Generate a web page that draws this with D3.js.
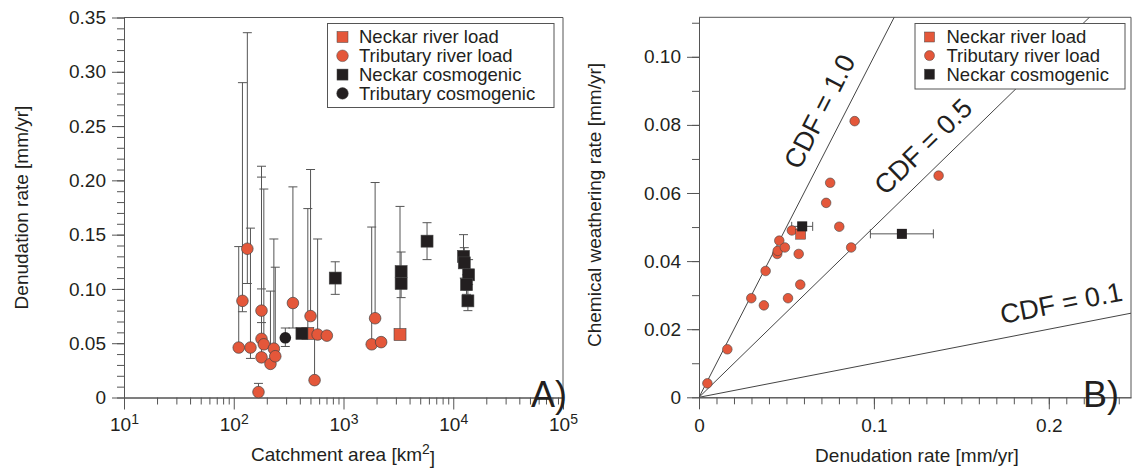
<!DOCTYPE html>
<html>
<head>
<meta charset="utf-8">
<script src="https://cdn.jsdelivr.net/npm/d3@7"></script>
<style>
  body { margin: 0; background: #fff; }
  text { font-family: "Liberation Sans", Arial, Helvetica, sans-serif; fill: #231f20; }
</style>
</head>
<body>
<script>
// ---- Panel A: denudation rate vs catchment area ----
// tributary river load (orange circles)
var tribArea = [111, 120, 133, 142, 168, 179, 179, 179, 188, 216, 232, 239,
  346, 501, 545, 581, 705, 1807, 1941, 2203]
var tribRate = [0.046, 0.089, 0.137, 0.046, 0.005, 0.080, 0.054, 0.037, 0.049, 0.031, 0.045, 0.038,
  0.087, 0.075, 0.016, 0.058, 0.057, 0.049, 0.073, 0.051]
var tribLow = [null, 0.079, 0.105, 0.036, null, 0.069, null, null, null, null, null, null,
  0.064, null, null, null, null, null, null, null]
var tribHigh = [0.139, 0.290, 0.336, 0.156, 0.013, 0.213, 0.100, 0.203, 0.192, 0.098, 0.146, 0.120,
  0.194, 0.210, 0.058, 0.146, null, 0.157, 0.198, null]

// Neckar river load (orange squares)
var neckarArea = [473, 3273]
var neckarRate = [0.059, 0.058]
var neckarLow = [null, null]
var neckarHigh = [0.174, 0.176]

// Neckar cosmogenic (black squares)
var cosmoArea = [418, 841, 3350, 3350, 5770, 12400, 12600, 13800, 13200, 13600]
var cosmoRate = [0.059, 0.110, 0.116, 0.105, 0.144, 0.130, 0.124, 0.113, 0.104, 0.089]
var cosmoLow = [null, 0.095, 0.105, 0.092, 0.127, 0.120, 0.110, 0.104, 0.095, 0.080]
var cosmoHigh = [null, 0.125, 0.134, 0.116, 0.161, 0.150, 0.138, 0.127, 0.113, 0.099]

// tributary cosmogenic (black circle)
var tribCosmoArea = [295]
var tribCosmoRate = [0.055]
var tribCosmoLow = [0.047]
var tribCosmoHigh = [0.064]

// ---- Panel B: chemical weathering vs denudation ----
var tribDen = [0.0048, 0.0162, 0.0299, 0.0371, 0.0381, 0.0509, 0.0447, 0.0450, 0.0459, 0.0491,
  0.0531, 0.0570, 0.0579, 0.0727, 0.0750, 0.0802, 0.0870, 0.0890, 0.137]
var tribChem = [0.0041, 0.0141, 0.0291, 0.0270, 0.0371, 0.0291, 0.0421, 0.0430, 0.0460, 0.0440,
  0.0490, 0.0421, 0.0331, 0.0571, 0.0630, 0.0501, 0.0440, 0.0811, 0.0651]
var neckarDen = [0.0581]
var neckarChem = [0.0479]
var cosmoDen = [0.059, 0.116]
var cosmoChem = [0.0502, 0.048]
var cosmoDenLow = [0.053, 0.098]
var cosmoDenHigh = [0.065, 0.134]

// CDF reference lines
var cdfValues = [1.0, 0.5, 0.1]
var cdfLabels = ['CDF = 1.0', 'CDF = 0.5', 'CDF = 0.1']

// tick labels
var yTicksA = [0, 0.05, 0.10, 0.15, 0.20, 0.25, 0.30, 0.35]
var yTickLabelsA = ['0', '0.05', '0.10', '0.15', '0.20', '0.25', '0.30', '0.35']
var xTicksA = [10, 100, 1000, 10000, 100000]
var xTickExpA = ['1', '2', '3', '4', '5']
var yTicksB = [0, 0.02, 0.04, 0.06, 0.08, 0.10]
var yTickLabelsB = ['0', '0.02', '0.04', '0.06', '0.08', '0.10']
var xTicksB = [0, 0.1, 0.2]
var xTickLabelsB = ['0', '0.1', '0.2']

var legendA = ['Neckar river load', 'Tributary river load', 'Neckar cosmogenic', 'Tributary cosmogenic']
var legendB = ['Neckar river load', 'Tributary river load', 'Neckar cosmogenic']

// colours
var orange = '#e4573a'
var black = '#231f20'
var gray = '#555'

var svg = d3.select('body').append('svg')
  .attr('width', 1133)
  .attr('height', 468)

// scales
var xA = d3.scaleLog().domain([10, 100000]).range([124, 563])
var yA = d3.scaleLinear().domain([0, 0.35]).range([397.5, 17.5])
var xB = d3.scaleLinear().domain([0, 0.247]).range([699, 1131])
var yB = d3.scaleLinear().domain([0, 0.1116]).range([397.3, 17.3])

// styles an axis group
function styleAxis (g) {
  g.attr('font-family', null).attr('font-size', null)
  g.select('.domain').attr('stroke', gray)
  g.selectAll('line').attr('stroke', gray)
  g.selectAll('text').attr('font-size', 19).attr('fill', black)
}

// ---------------- axes A ----------------
var minorA = []
for (let d = 10; d < 100000; d *= 10) {
  for (let k = 2; k <= 9; k++) minorA.push(k * d)
}
var minorYA = d3.range(0, 36).map(function (i) { return i / 100 })

svg.append('g').attr('transform', 'translate(0,' + yA(0) + ')')
  .call(d3.axisBottom(xA).tickValues(minorA).tickFormat('').tickSize(7).tickSizeOuter(0))
  .call(styleAxis)
var gxA = svg.append('g').attr('transform', 'translate(0,' + yA(0) + ')')
  .call(d3.axisBottom(xA).tickValues(xTicksA).tickFormat(function () { return '10' })
    .tickSize(12).tickSizeOuter(0).tickPadding(8))
  .call(styleAxis)
gxA.selectAll('.tick text').append('tspan')
  .attr('dy', '-0.5em').attr('font-size', 14)
  .text(function (d, i) { return xTickExpA[i] })

svg.append('g').attr('transform', 'translate(' + xA(10) + ',0)')
  .call(d3.axisLeft(yA).tickValues(minorYA).tickFormat('').tickSize(7).tickSizeOuter(0))
  .call(styleAxis)
svg.append('g').attr('transform', 'translate(' + xA(10) + ',0)')
  .call(d3.axisLeft(yA).tickValues(yTicksA).tickFormat(function (d, i) { return yTickLabelsA[i] })
    .tickSize(12).tickSizeOuter(0).tickPadding(6))
  .call(styleAxis)

// frame top / right
svg.append('path')
  .attr('d', 'M' + xA(10) + ',' + yA(0.35) + 'H' + xA(100000) + 'V' + yA(0))
  .attr('fill', 'none').attr('stroke', gray)

// ---------------- axes B ----------------
var minorXB = d3.range(0, 25).map(function (i) { return i / 100 })
var minorYB = d3.range(0, 12).map(function (i) { return i / 100 })

svg.append('g').attr('transform', 'translate(0,' + yB(0) + ')')
  .call(d3.axisBottom(xB).tickValues(minorXB).tickFormat('').tickSize(7).tickSizeOuter(0))
  .call(styleAxis)
svg.append('g').attr('transform', 'translate(0,' + yB(0) + ')')
  .call(d3.axisBottom(xB).tickValues(xTicksB).tickFormat(function (d, i) { return xTickLabelsB[i] })
    .tickSize(12).tickSizeOuter(0).tickPadding(9))
  .call(styleAxis)
svg.append('g').attr('transform', 'translate(' + xB(0) + ',0)')
  .call(d3.axisLeft(yB).tickValues(minorYB).tickFormat('').tickSize(7).tickSizeOuter(0))
  .call(styleAxis)
svg.append('g').attr('transform', 'translate(' + xB(0) + ',0)')
  .call(d3.axisLeft(yB).tickValues(yTicksB).tickFormat(function (d, i) { return yTickLabelsB[i] })
    .tickSize(12).tickSizeOuter(0).tickPadding(6))
  .call(styleAxis)

svg.append('path')
  .attr('d', 'M' + xB(0) + ',' + yB(0.1116) + 'H' + xB(0.247) + 'V' + yB(0))
  .attr('fill', 'none').attr('stroke', gray)

// ---------------- axis titles ----------------
var titleA = svg.append('text')
  .attr('x', 343).attr('y', 461).attr('text-anchor', 'middle').attr('font-size', 19)
titleA.append('tspan').text('Catchment area [km')
titleA.append('tspan').attr('dy', '-0.5em').attr('font-size', 14).text('2')
titleA.append('tspan').attr('dy', '0.5em').text(']')

svg.append('text')
  .attr('transform', 'translate(28,' + yA(0.175) + ') rotate(-90)')
  .attr('text-anchor', 'middle').attr('font-size', 19)
  .text('Denudation rate [mm/yr]')

svg.append('text')
  .attr('x', 917).attr('y', 462).attr('text-anchor', 'middle').attr('font-size', 19)
  .text('Denudation rate [mm/yr]')

svg.append('text')
  .attr('transform', 'translate(601,' + 205 + ') rotate(-90)')
  .attr('text-anchor', 'middle').attr('font-size', 19)
  .text('Chemical weathering rate [mm/yr]')

// panel letters
svg.append('text').attr('x', 531).attr('y', 407).attr('font-size', 36).text('A)')
svg.append('text').attr('x', 1083).attr('y', 407).attr('font-size', 36).text('B)')

// ---------------- panel A marks ----------------
var gA = svg.append('g')

// vertical error bars: line from low (or value) to high, with caps
function errorBars (area, rate, low, high) {
  area.forEach(function (a, i) {
    var top = high[i] != null ? high[i] : rate[i]
    var bot = low[i] != null ? low[i] : rate[i]
    var x = xA(a)
    gA.append('line')
      .attr('x1', x).attr('x2', x).attr('y1', yA(bot)).attr('y2', yA(top))
      .attr('stroke', gray).attr('stroke-width', 1)
    if (high[i] != null) {
      gA.append('line').attr('x1', x - 4.5).attr('x2', x + 4.5)
        .attr('y1', yA(high[i])).attr('y2', yA(high[i]))
        .attr('stroke', gray).attr('stroke-width', 1)
    }
    if (low[i] != null) {
      gA.append('line').attr('x1', x - 4.5).attr('x2', x + 4.5)
        .attr('y1', yA(low[i])).attr('y2', yA(low[i]))
        .attr('stroke', gray).attr('stroke-width', 1)
    }
  })
}
errorBars(tribArea, tribRate, tribLow, tribHigh)
errorBars(neckarArea, neckarRate, neckarLow, neckarHigh)
errorBars(cosmoArea, cosmoRate, cosmoLow, cosmoHigh)
errorBars(tribCosmoArea, tribCosmoRate, tribCosmoLow, tribCosmoHigh)

gA.selectAll('rect.neckar').data(neckarArea).enter().append('rect')
  .attr('x', function (d) { return xA(d) - 6 })
  .attr('y', function (d, i) { return yA(neckarRate[i]) - 6 })
  .attr('width', 12).attr('height', 12)
  .attr('fill', orange).attr('stroke', '#444').attr('stroke-width', 0.6)

gA.selectAll('circle.trib').data(tribArea).enter().append('circle')
  .attr('cx', function (d) { return xA(d) })
  .attr('cy', function (d, i) { return yA(tribRate[i]) })
  .attr('r', 5.8)
  .attr('fill', orange).attr('stroke', '#444').attr('stroke-width', 0.7)

gA.selectAll('rect.cosmo').data(cosmoArea).enter().append('rect')
  .attr('x', function (d) { return xA(d) - 6 })
  .attr('y', function (d, i) { return yA(cosmoRate[i]) - 6 })
  .attr('width', 12).attr('height', 12)
  .attr('fill', black).attr('stroke', '#444').attr('stroke-width', 0.6)

gA.selectAll('circle.tcosmo').data(tribCosmoArea).enter().append('circle')
  .attr('cx', function (d) { return xA(d) })
  .attr('cy', function (d, i) { return yA(tribCosmoRate[i]) })
  .attr('r', 5.8)
  .attr('fill', black)

// legend A
var legA = svg.append('g')
legA.append('rect').attr('x', 327.5).attr('y', 23.5).attr('width', 226.5).attr('height', 84)
  .attr('fill', '#fff').attr('stroke', gray)
legendA.forEach(function (t, i) {
  var cy = 37 + i * 18.8
  var col = i < 2 ? orange : black
  if (i % 2 === 0) {
    legA.append('rect').attr('x', 337).attr('y', cy - 5.5).attr('width', 11).attr('height', 11)
      .attr('fill', col).attr('stroke', '#444').attr('stroke-width', 0.5)
  } else {
    legA.append('circle').attr('cx', 342.5).attr('cy', cy).attr('r', 5.8)
      .attr('fill', col).attr('stroke', '#444').attr('stroke-width', 0.5)
  }
  legA.append('text').attr('x', 359).attr('y', cy).attr('dy', '0.35em')
    .attr('font-size', 18.5).text(t)
})

// ---------------- panel B marks ----------------
svg.append('clipPath').attr('id', 'clipB')
  .append('rect').attr('x', xB(0)).attr('y', yB(0.1116))
  .attr('width', xB(0.247) - xB(0)).attr('height', yB(0) - yB(0.1116))

var gB = svg.append('g')
var cdfLine = d3.line().x(function (d) { return xB(d[0]) }).y(function (d) { return yB(d[1]) })
cdfValues.forEach(function (c) {
  gB.append('path')
    .attr('d', cdfLine([[0, 0], [0.247, 0.247 * c]]))
    .attr('clip-path', 'url(#clipB)')
    .attr('fill', 'none').attr('stroke', '#444').attr('stroke-width', 1)
})

// CDF labels placed along each line, offset above it
var cdfLabelX = [0.0808, 0.1375, 0.2096]
cdfValues.forEach(function (c, i) {
  var px = xB(cdfLabelX[i])
  var py = yB(cdfLabelX[i] * c)
  var ang = Math.atan2(yB(0) - yB(0.1 * c), xB(0.1) - xB(0))
  var ox = px - 23 * Math.sin(ang)
  var oy = py - 23 * Math.cos(ang)
  gB.append('text')
    .attr('transform', 'translate(' + ox + ',' + oy + ') rotate(' + (-ang * 180 / Math.PI) + ')')
    .attr('text-anchor', 'middle').attr('dominant-baseline', 'central')
    .attr('font-size', 27).text(cdfLabels[i])
})

// horizontal error bars for cosmogenic
cosmoDen.forEach(function (d, i) {
  var y = yB(cosmoChem[i])
  gB.append('line').attr('x1', xB(cosmoDenLow[i])).attr('x2', xB(cosmoDenHigh[i]))
    .attr('y1', y).attr('y2', y).attr('stroke', gray)
  ;[cosmoDenLow[i], cosmoDenHigh[i]].forEach(function (v) {
    gB.append('line').attr('x1', xB(v)).attr('x2', xB(v))
      .attr('y1', y - 4.5).attr('y2', y + 4.5).attr('stroke', gray)
  })
})

gB.selectAll('circle.trib').data(tribDen).enter().append('circle')
  .attr('cx', function (d) { return xB(d) })
  .attr('cy', function (d, i) { return yB(tribChem[i]) })
  .attr('r', 4.8)
  .attr('fill', orange).attr('stroke', '#444').attr('stroke-width', 0.6)

gB.selectAll('rect.neckar').data(neckarDen).enter().append('rect')
  .attr('x', function (d) { return xB(d) - 5 })
  .attr('y', function (d, i) { return yB(neckarChem[i]) - 5 })
  .attr('width', 10).attr('height', 10)
  .attr('fill', orange).attr('stroke', '#444').attr('stroke-width', 0.5)

gB.selectAll('rect.cosmo').data(cosmoDen).enter().append('rect')
  .attr('x', function (d) { return xB(d) - 5 })
  .attr('y', function (d, i) { return yB(cosmoChem[i]) - 5 })
  .attr('width', 10).attr('height', 10)
  .attr('fill', black)

// legend B
var legB = svg.append('g')
legB.append('rect').attr('x', 915).attr('y', 23.5).attr('width', 210).attr('height', 65.5)
  .attr('fill', '#fff').attr('stroke', gray)
legendB.forEach(function (t, i) {
  var cy = 37 + i * 18.6
  var col = i < 2 ? orange : black
  if (i % 2 === 0) {
    legB.append('rect').attr('x', 924.5).attr('y', cy - 5).attr('width', 10).attr('height', 10)
      .attr('fill', col).attr('stroke', '#444').attr('stroke-width', 0.5)
  } else {
    legB.append('circle').attr('cx', 929.5).attr('cy', cy).attr('r', 5)
      .attr('fill', col).attr('stroke', '#444').attr('stroke-width', 0.5)
  }
  legB.append('text').attr('x', 946.5).attr('y', cy).attr('dy', '0.35em')
    .attr('font-size', 18.5).text(t)
})
</script>
</body>
</html>
